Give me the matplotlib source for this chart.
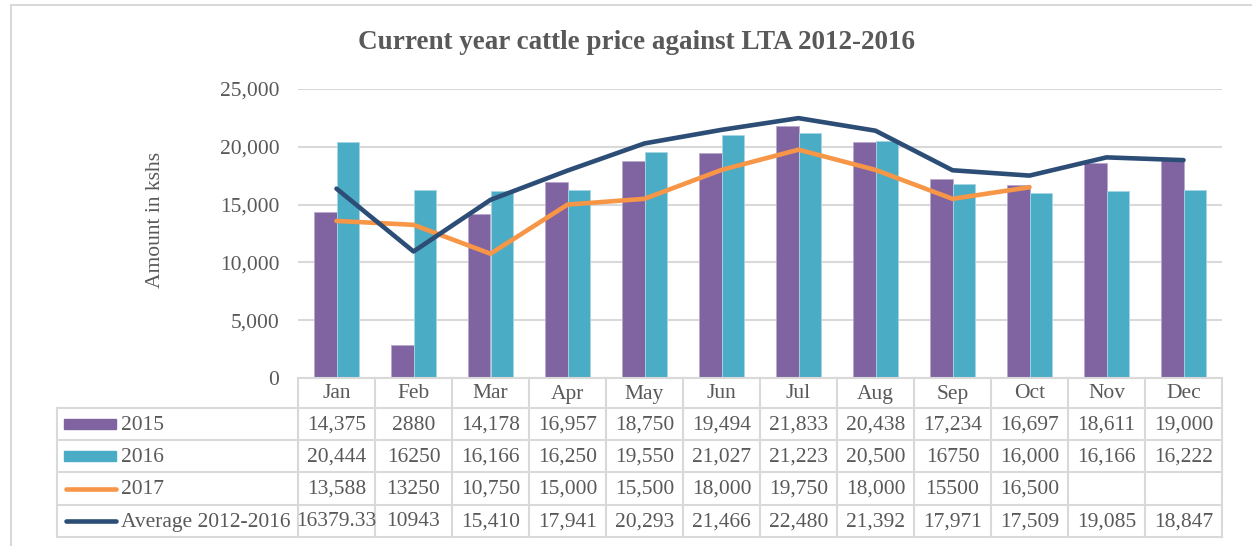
import matplotlib
matplotlib.use("Agg")
import matplotlib.pyplot as plt
import numpy as np
from matplotlib.transforms import blended_transform_factory
from matplotlib.lines import Line2D
from matplotlib.patches import Rectangle

months = ["Jan", "Feb", "Mar", "Apr", "May", "Jun", "Jul", "Aug", "Sep", "Oct", "Nov", "Dec"]
s2015 = [14375, 2880, 14178, 16957, 18750, 19494, 21833, 20438, 17234, 16697, 18611, 19000]
s2016 = [20444, 16250, 16166, 16250, 19550, 21027, 21223, 20500, 16750, 16000, 16166, 16222]
s2017 = [13588, 13250, 10750, 15000, 15500, 18000, 19750, 18000, 15500, 16500, np.nan, np.nan]
savg = [16379.33, 10943, 15410, 17941, 20293, 21466, 22480, 21392, 17971, 17509, 19085, 18847]

lbl2015 = ["14,375", "2880", "14,178", "16,957", "18,750", "19,494", "21,833", "20,438", "17,234", "16,697", "18,611", "19,000"]
lbl2016 = ["20,444", "16250", "16,166", "16,250", "19,550", "21,027", "21,223", "20,500", "16750", "16,000", "16,166", "16,222"]
lbl2017 = ["13,588", "13250", "10,750", "15,000", "15,500", "18,000", "19,750", "18,000", "15500", "16,500", "", ""]
lblavg = ["16379.33", "10943", "15,410", "17,941", "20,293", "21,466", "22,480", "21,392", "17,971", "17,509", "19,085", "18,847"]

series_names = ["2015", "2016", "2017", "Average 2012-2016"]
title = "Current year cattle price against LTA 2012-2016"
ylabel = "Amount in kshs"

C15 = "#8064A2"
C16 = "#4BACC6"
C17 = "#F79646"
CAVG = "#2C4D75"
TXT = "#595959"
GRID = "#D9D9D9"
FONT = "Liberation Serif"
FS = 15.5

W, H = 1252, 546
fig = plt.figure(figsize=(W / 100, H / 100), dpi=100)

def fx(px):
    return px / W

def fy(py):
    return 1 - py / H

# outer frame
fig.patches.append(Rectangle((fx(11), fy(600)), fx(1300), fy(5) - fy(600),
                             transform=fig.transFigure, fill=False, edgecolor=GRID, lw=1.5))

ax = fig.add_axes([fx(298), fy(378), fx(1222) - fx(298), fy(89) - fy(378)])
x = np.arange(len(months))
bw = 0.29
ax.bar(x - bw / 2, s2015, bw, color=C15, edgecolor="#B9A9CC", lw=0.6, zorder=2)
ax.bar(x + bw / 2, s2016, bw, color=C16, edgecolor="#A5D6E3", lw=0.6, zorder=2)
ax.plot(x, s2017, color=C17, lw=3.3, solid_capstyle="round", solid_joinstyle="round", zorder=3)
ax.plot(x, savg, color=CAVG, lw=3.3, solid_capstyle="round", solid_joinstyle="round", zorder=4)

ax.set_xlim(-0.5, 11.5)
ax.set_ylim(0, 25000)
ax.set_yticks(np.arange(0, 25001, 5000))
ax.set_yticklabels([f"{v:,}" for v in range(0, 25001, 5000)], fontfamily=FONT, fontsize=FS, color=TXT)
ax.tick_params(axis="y", length=0, pad=13.5)
ax.set_xticks([])
ax.grid(axis="y", color=GRID, lw=1.5, zorder=0)
ax.set_axisbelow(True)
for sp in ["top", "right", "left"]:
    ax.spines[sp].set_visible(False)
ax.spines["bottom"].set_color(GRID)
ax.spines["bottom"].set_linewidth(1.5)

fig.text(fx(636), fy(43), title, ha="center", va="center", fontfamily=FONT,
         fontsize=19.5, fontweight="bold", color=TXT)
fig.text(fx(155), fy(220), ylabel, ha="center", va="center", rotation=90,
         fontfamily=FONT, fontsize=FS, color=TXT)

# data table
bt = blended_transform_factory(ax.transData, fig.transFigure)
row_lines = [408, 440, 472, 505, 537]
row_centers = [424, 456, 488.5, 521]
header_c = 393
for b in np.arange(-0.5, 12.0, 1.0):
    fig.lines.append(Line2D([b, b], [fy(378), fy(537)], transform=bt, color=GRID, lw=1.5))
fig.lines.append(Line2D([fx(57), fx(57)], [fy(408), fy(537)], transform=fig.transFigure, color=GRID, lw=1.5))
for r in row_lines:
    fig.lines.append(Line2D([fx(57), fx(1222)], [fy(r), fy(r)], transform=fig.transFigure, color=GRID, lw=1.5))

for i, m in enumerate(months):
    fig.text(i, fy(header_c + 1), m, transform=bt, ha="center", va="center",
             fontfamily=FONT, fontsize=FS, color=TXT)
for rc, labels in zip(row_centers, [lbl2015, lbl2016, lbl2017, lblavg]):
    for i, t in enumerate(labels):
        fig.text(i, fy(rc + 1), t, transform=bt, ha="center", va="center",
                 fontfamily=FONT, fontsize=FS, color=TXT)

# legend keys
kx0, kx1 = 64, 116
for rc, col in zip(row_centers[:2], [C15, C16]):
    fig.patches.append(Rectangle((fx(kx0), fy(rc + 5)), fx(kx1) - fx(kx0), fy(rc - 5) - fy(rc + 5),
                                 transform=fig.transFigure, color=col))
for rc, col in zip(row_centers[2:], [C17, CAVG]):
    fig.lines.append(Line2D([fx(kx0 + 2), fx(kx1)], [fy(rc), fy(rc)], transform=fig.transFigure,
                            color=col, lw=3.3, solid_capstyle="round"))
for rc, name in zip(row_centers, series_names):
    fig.text(fx(121), fy(rc + 1), name, ha="left", va="center", fontfamily=FONT, fontsize=FS, color=TXT)

fig.savefig("out.png", dpi=100)
